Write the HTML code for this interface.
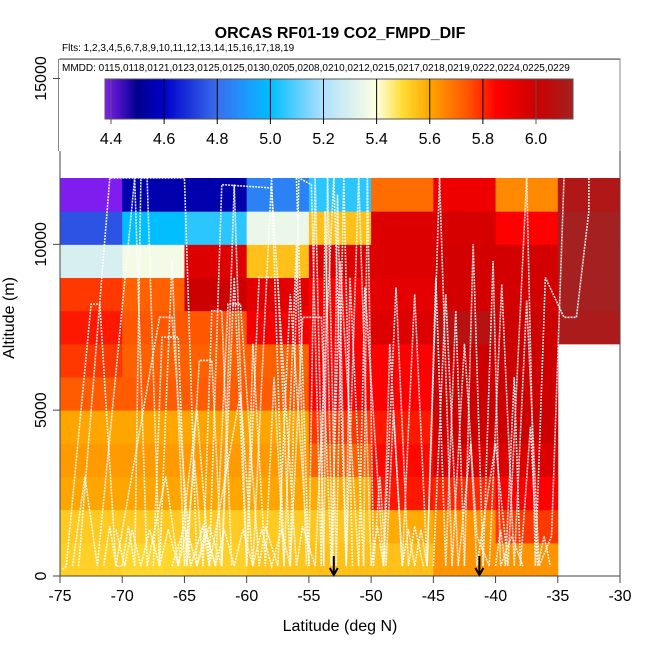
<!DOCTYPE html>
<html><head><meta charset="utf-8"><style>
body{margin:0;background:#fff}
svg{display:block;font-family:"Liberation Sans",Arial,sans-serif}
</style></head><body>
<svg id="chart" width="650" height="650" viewBox="0 0 650 650" xmlns="http://www.w3.org/2000/svg">
<text x="340" y="38" font-size="16" font-weight="bold" text-anchor="middle">ORCAS RF01-19 CO2_FMPD_DIF</text>
<text x="62" y="51" font-size="10">Flts: 1,2,3,4,5,6,7,8,9,10,11,12,13,14,15,16,17,18,19</text>
<g id="heat"></g>
<g id="tracks"></g>
<g id="arrows"></g>
<rect x="60" y="59" width="560" height="517" fill="none" stroke="#444" stroke-width="1"/>
<g>
<rect x="58.5" y="59" width="561" height="92" fill="#fff"/>
<path d="M58.5,151 L58.5,59.5 L620,59.5 L620,151" fill="none" stroke="#888" stroke-width="1"/>
<text x="62" y="71" font-size="10">MMDD: 0115,0118,0121,0123,0125,0125,0130,0205,0208,0210,0212,0215,0217,0218,0219,0222,0224,0225,0229</text>
<g id="cbar"></g>
</g>
<g id="xaxis"></g>
<g id="yaxis"></g>
<text x="340" y="631" font-size="16" text-anchor="middle">Latitude (deg N)</text>
<text x="0" y="0" font-size="16" text-anchor="middle" transform="translate(14,318) rotate(-90)">Altitude (m)</text>
</svg>
<script>
const latEdges=[-75,-70,-65,-60,-55,-50,-45,-40,-35,-30];
const altEdges=[0,1000,2000,3000,4000,5000,6000,7000,8000,9000,10000,11000,12000];
// rows bottom (0-1k) to top (11-12k); columns -75..-30 by 5; null = no data
const cellValues=[
[5.52,5.51,5.52,5.54,5.55,5.55,5.63,5.63,null],
[5.53,5.53,5.53,5.53,5.54,5.59,5.63,5.78,null],
[5.6,5.6,5.6,5.6,5.59,5.82,5.8,5.85,null],
[5.62,5.62,5.62,5.62,5.72,5.84,5.95,5.95,null],
[5.6,5.6,5.6,5.6,5.78,5.82,6.0,6.0,null],
[5.73,5.73,5.73,5.73,5.85,5.85,6.0,6.0,null],
[5.78,5.72,5.72,5.72,5.85,5.85,6.0,6.0,null],
[5.82,5.74,5.74,5.88,5.85,5.95,6.08,6.0,6.12],
[5.78,5.72,6.0,5.93,5.85,5.93,5.98,5.98,6.15],
[5.3,5.37,5.95,5.55,5.95,5.95,5.98,5.98,6.15],
[4.75,5.0,5.05,5.35,5.55,5.95,5.97,5.85,6.15],
[4.38,4.55,4.55,4.85,5.05,5.7,5.9,5.65,6.1]
];
const xTicks=[-75,-70,-65,-60,-55,-50,-45,-40,-35,-30];
const yTicks=[0,5000,10000,15000];
const cbTicks=[4.4,4.6,4.8,5.0,5.2,5.4,5.6,5.8,6.0];
const arrowLats=[-53,-41.3];
const tracks=[
[[-74.8,200],[-74.5,300],[-72.5,8200],[-71.8,8200],[-70.5,300],[-70,300],[-69.5,1500],[-69,300],[-68.5,12000],[-65,12000],[-64,300],[-63,1500],[-62,300],[-61,11800],[-60,300]],
[[-71.5,300],[-71,1500],[-70.5,300],[-67,7800],[-66,7800],[-64.5,300],[-63.5,1500],[-62.5,300],[-61.5,8200],[-60.5,8200],[-59,300],[-58.5,1500],[-57.5,300],[-56.5,8500],[-55,300]],
[[-66,300],[-65,1500],[-64.5,300],[-63.5,1500],[-63,300],[-62,11800],[-58,11700],[-56,300],[-55.5,1500],[-54.5,300],[-53,12000],[-52,300],[-51,12000],[-50,300]],
[[-60,300],[-59,9000],[-57.5,9000],[-56.5,300],[-55.5,7800],[-54,7800],[-53.2,300],[-52.5,9500],[-51,300],[-50.5,8700],[-49,300],[-48,8700],[-47,300],[-46.5,1500],[-45.8,300]],
[[-50,300],[-49.5,1500],[-49,300],[-48.5,7000],[-47.5,300],[-46.5,8500],[-45.5,300],[-44.5,12000],[-43.5,300],[-42.5,7000],[-41.5,1200],[-40.5,300],[-39.5,8800],[-38.5,300],[-37.5,8300],[-36.5,300],[-35.5,1200],[-34.5,12000]],
[[-45,300],[-44,8500],[-43,300],[-42,4000],[-41.5,300],[-40,4000],[-39,300],[-37.5,12000],[-36.8,300],[-36,9000],[-34.5,7800],[-33.5,7800],[-32.5,11000],[-32.5,12000]],
[[-74,300],[-73,3000],[-72,300],[-69,12000],[-68,300],[-66.5,3000],[-65.5,300],[-64,5000],[-63,300],[-60.5,5500],[-59.5,300],[-58,12000],[-57,300]],
[[-56,12000],[-55,300],[-54.5,12000],[-53.8,300],[-53.5,12000],[-52.8,300],[-52.2,12000],[-51.5,300]],
[[-70.5,1400],[-69.8,300],[-69.2,1400],[-68.5,300],[-67.8,1400],[-67,300],[-66.3,1400],[-65.5,300],[-64.8,1400],[-64,300],[-63.3,1400],[-62.5,300],[-61.8,1400],[-61,300],[-60.3,1400],[-59.5,300],[-58.8,1400],[-58,300],[-57.2,1400],[-56.5,300]],
[[-67.5,300],[-66.8,7200],[-65.5,7200],[-64.8,300],[-63.8,6500],[-62.8,6500],[-62,300],[-61,9000],[-60,300],[-59.5,7000],[-58.5,300],[-57.8,6000],[-57,300],[-56,10000],[-55.2,300]],
[[-49.8,300],[-49.3,3000],[-48.8,300],[-48.2,5000],[-47.5,300],[-47,1400],[-46.5,300],[-46,1400],[-45.5,300],[-44.8,9000],[-44,300],[-43.2,8000],[-42.5,300],[-41.8,10000],[-41,300],[-40.2,9500],[-39.6,300],[-38.7,1200],[-37.8,300]],
[[-56.5,300],[-55.8,12000],[-54.8,11800],[-54,300],[-53.7,11000],[-53.1,300],[-52.7,11500],[-52,300],[-51.7,9000],[-50.6,300],[-50.3,12000],[-49.8,300]],
[[-73.5,300],[-71,12000],[-68,12000],[-67,300],[-66,9500],[-65,300],[-64.2,3500],[-63.5,300],[-62.8,8000],[-62,8000],[-61.2,300]],
[[-40,300],[-39.6,1400],[-39.2,300],[-38.5,6000],[-38,300],[-37.2,4500],[-36.6,300],[-36.1,1200],[-35.6,300]]
];
const X=v=>60+(v+75)*560/45;
const Y=v=>576-v*(576-178)/12000;
const NS='http://www.w3.org/2000/svg';
function mk(tag,attrs,parent){const e=document.createElementNS(NS,tag);for(const k in attrs)e.setAttribute(k,attrs[k]);parent.appendChild(e);return e;}
const stops=[[4.377,[130,30,240]],[4.5,[0,0,140]],[4.6,[0,0,205]],[4.8,[58,110,235]],[4.9,[30,150,255]],[5.0,[0,190,255]],[5.2,[176,224,255]],[5.4,[255,255,224]],[5.5,[255,220,50]],[5.6,[255,165,0]],[5.75,[255,80,0]],[5.85,[255,0,0]],[6.0,[204,0,0]],[6.14,[165,32,32]]];
function col(v){if(v<=stops[0][0])return 'rgb('+stops[0][1]+')';for(let i=1;i<stops.length;i++){if(v<=stops[i][0]){const a=stops[i-1],b=stops[i];const t=(v-a[0])/(b[0]-a[0]);return 'rgb('+a[1].map((c,j)=>Math.round(c+(b[1][j]-c)*t)).join(',')+')';}}return 'rgb('+stops[stops.length-1][1]+')';}
const heat=document.getElementById('heat');
cellValues.forEach((row,r)=>row.forEach((v,c)=>{if(v===null)return;
const x0=X(latEdges[c]),x1=X(latEdges[c+1]),y0=Y(altEdges[r+1]),y1=Y(altEdges[r]);
const e=mk('rect',{x:x0,y:y0,width:x1-x0+0.5,height:y1-y0+0.5,fill:col(v)},heat);


}));
const tg=document.getElementById('tracks');
tracks.forEach(t=>{const e=mk('polyline',{points:t.map(p=>X(p[0])+','+Y(p[1])).join(' '),fill:'none',stroke:'#fff','stroke-width':1.6,'stroke-dasharray':'2 1','stroke-opacity':0.9},tg);


});
const ag=document.getElementById('arrows');
arrowLats.forEach(l=>{const x=X(l);const e=mk('path',{d:`M${x},556 L${x},575 M${x-4},568 L${x},575 L${x+4},568`,stroke:'#000','stroke-width':2,fill:'none'},ag);


});
const xa=document.getElementById('xaxis');
xTicks.forEach(t=>{mk('line',{x1:X(t),x2:X(t),y1:576,y2:583,stroke:'#444'},xa);
const e=mk('text',{x:X(t),y:601,'font-size':16,'text-anchor':'middle'},xa);e.textContent=t;


});
const ya=document.getElementById('yaxis');
yTicks.forEach(t=>{mk('line',{x1:53,x2:60,y1:Y(t),y2:Y(t),stroke:'#444'},ya);
const e=mk('text',{x:0,y:0,'font-size':16,'text-anchor':'middle',transform:`translate(46,${Y(t)}) rotate(-90)`},ya);e.textContent=t;


});
const cb=document.getElementById('cbar');
const C=v=>111+(v-4.4)*(536-111)/1.6;
for(let px=105;px<573;px++){const v=4.4+(px+0.5-111)*1.6/425;mk('rect',{x:px,y:79,width:1.2,height:40,fill:col(v)},cb);}
mk('rect',{x:105,y:79,width:468,height:40,fill:'none',stroke:'#555'},cb);
cbTicks.forEach(t=>{mk('line',{x1:C(t),x2:C(t),y1:79,y2:124,stroke:t===4.4||t===6.0?'#555':'#000','stroke-width':1},cb);
const e=mk('text',{x:C(t),y:144,'font-size':16,'text-anchor':'middle'},cb);e.textContent=t.toFixed(1);


});
</script>
</body></html>
